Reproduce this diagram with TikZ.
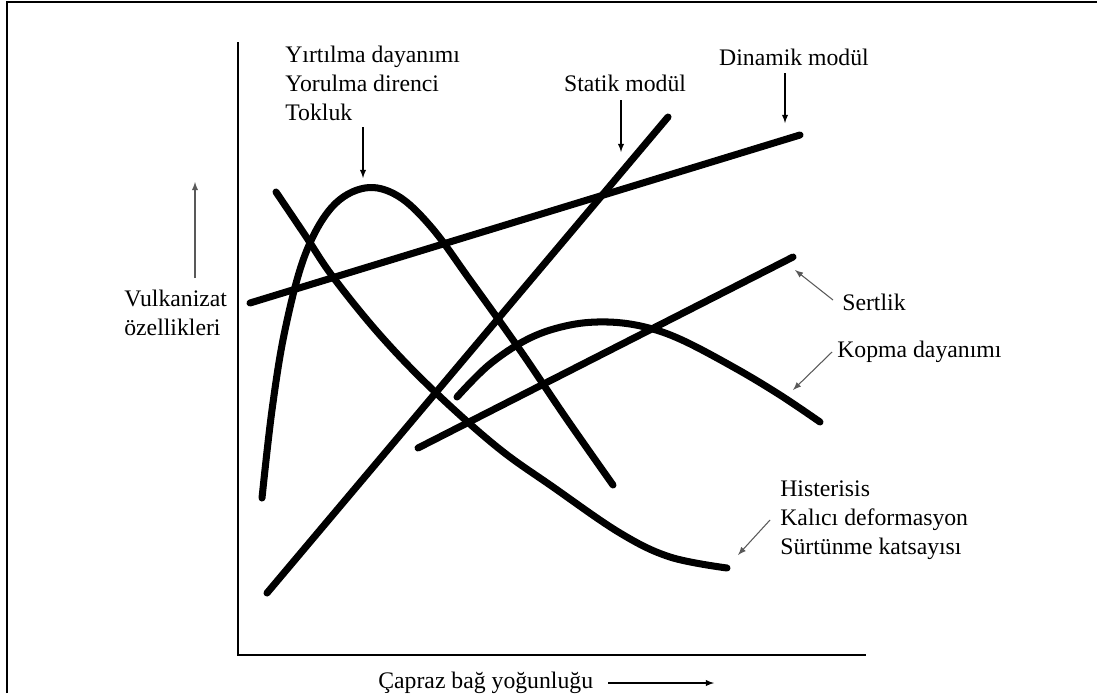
\documentclass[tikz,border=0pt]{standalone}
\usepackage{fontspec}
\setmainfont{Liberation Serif}
\usetikzlibrary{arrows}

\begin{document}
\begin{tikzpicture}[x=0.02cm,y=-0.02cm]
\tikzstyle{every node}+=[inner sep=0pt, font=\fontsize{13.5}{16.5}\selectfont]
\tikzstyle{curve}=[line width=4pt, line cap=round, line join=round]
\tikzstyle{pointer}=[-latex, line width=0.6pt]
\tikzstyle{greypointer}=[-latex, line width=0.6pt, black!65]
\useasboundingbox (0,0) rectangle (1097,693);
% frame and axes
\draw [line width=1.7pt] (7,693) -- (7,2) -- (1097,2);
\draw [line width=1.5pt] (238,42) -- (238,655) -- (866,655);
% property curves
\draw [curve] (250,303) -- (800,135);
\draw [curve] (267,593) -- (668,117);
\draw [curve] (418,448) -- (793,257);
\draw [curve] plot [smooth, tension=0.6] coordinates {(262,498) (272,410) (285,330) (305,255) (332,207) (365,188) (398,196) (432,228) (470,280) (520,350) (566,418) (613,485)};
\draw [curve] plot [smooth, tension=0.6] coordinates {(276,192) (305,235) (333,277) (380,335) (433,390) (497,447) (553,487) (620,533) (670,557) (727,568)};
\draw [curve] plot [smooth, tension=0.6] coordinates {(457,397) (490,364) (530,338) (570,325) (608,322) (645,327) (682,340) (735,368) (780,395) (820,422)};
% labels
\node (yirtilma) [anchor=west, align=left] at (285,83) {Yırtılma dayanımı\\Yorulma direnci\\Tokluk};
\node (statik) at (625,83) {Statik modül};
\node (dinamik) at (794,57) {Dinamik modül};
\node (sertlik) [anchor=west] at (842,302) {Sertlik};
\node (kopma) [anchor=west] at (837,352) {Kopma dayanımı};
\node (histerisis) [anchor=west, align=left] at (780,520) {Histerisis\\Kalıcı deformasyon\\Sürtünme katsayısı};
\node (vulkanizat) [anchor=west, align=left] at (124,313) {Vulkanizat\\özellikleri};
\node (capraz) [anchor=west] at (378,683) {Çapraz bağ yoğunluğu};
% arrow ends
\coordinate (yirtilmatail) at (363,127);
\coordinate (yirtilmatip) at (363,178);
\coordinate (statiktail) at (621,100);
\coordinate (statiktip) at (621,152);
\coordinate (dinamiktail) at (785,73);
\coordinate (dinamiktip) at (785,123);
\coordinate (sertliktail) at (833,300);
\coordinate (sertliktip) at (795,270);
\coordinate (kopmatail) at (832,352);
\coordinate (kopmatip) at (793,390);
\coordinate (histerisistail) at (770,520);
\coordinate (histerisistip) at (738,555);
\coordinate (vulkanizattail) at (195,278);
\coordinate (vulkanizattip) at (195,182);
\coordinate (capraztail) at (608,683);
\coordinate (capraztip) at (714,683);
% arrows
\draw [pointer] (yirtilmatail) -- (yirtilmatip);
\draw [pointer] (statiktail) -- (statiktip);
\draw [pointer] (dinamiktail) -- (dinamiktip);
\draw [greypointer] (sertliktail) -- (sertliktip);
\draw [greypointer] (kopmatail) -- (kopmatip);
\draw [greypointer] (histerisistail) -- (histerisistip);
\draw [greypointer] (vulkanizattail) -- (vulkanizattip);
\draw [pointer] (capraztail) -- (capraztip);
\end{tikzpicture}
\end{document}
